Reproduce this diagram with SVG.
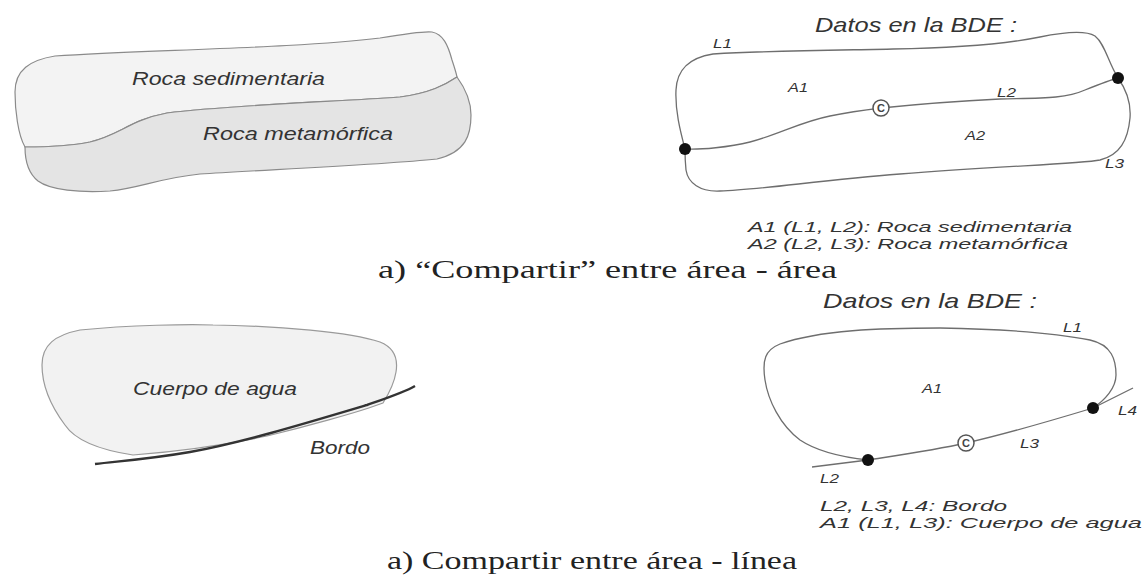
<svg xmlns="http://www.w3.org/2000/svg" width="1145" height="576" viewBox="0 0 1145 576">
<style>
.t{font-family:"Liberation Sans",Arial,sans-serif;font-style:italic;fill:#333}
.lab{font-size:13px}
.big{font-size:19px}
.leg{font-size:15px}
.cap{font-family:"Liberation Serif","Times New Roman",serif;font-size:25px;fill:#222}
.ln{fill:none;stroke:#6e6e6e;stroke-width:1.3}
.dot{fill:#111}
.cc{fill:#fff;stroke:#555;stroke-width:1.5}
.ccl{font-family:"Liberation Sans",Arial,sans-serif;font-size:11px;font-weight:bold;fill:#444;text-anchor:middle}
</style>
<rect width="1145" height="576" fill="#ffffff"/>

<g id="rocks-map">
  <path id="roca-sed" d="M25,147 C18,135 15,110 15,92 C15,70 30,60 55,56 C150,50 300,48 380,38 C410,33 425,31 432,32 C443,34 448,45 452,60 C454,66 456,72 457,77 C445,85 430,93 400,97 C330,102 230,105 167,113 C130,120 120,135 90,142 C70,146 40,147 25,147 Z" fill="#f3f3f3" stroke="#8a8a8a" stroke-width="1.2"/>
  <path id="roca-met" d="M457,77 C465,88 471,100 471,115 C471,135 466,152 437,159 C380,165 260,170 200,174 C160,178 140,188 110,191 C80,193 50,190 38,181 C28,173 25,160 25,147 C40,147 70,146 90,142 C120,135 130,120 167,113 C230,105 330,102 400,97 C430,93 445,85 457,77 Z" fill="#e4e4e4" stroke="#8a8a8a" stroke-width="1.2"/>
  <text class="t big" x="132" y="85" textLength="193" lengthAdjust="spacingAndGlyphs">Roca sedimentaria</text>
  <text class="t big" x="203" y="140" textLength="190" lengthAdjust="spacingAndGlyphs">Roca metamórfica</text>
</g>

<g id="water-map">
  <path id="cuerpo" d="M133,455 C100,450 75,440 65,425 C50,405 42,385 42,365 C42,345 55,335 80,330 C130,325 190,324 213,325 C280,326 350,332 380,342 C395,348 398,360 396,372 C394,385 388,395 383,403 C360,412 300,428 267,436 C220,446 170,452 133,455 Z" fill="#f2f2f2" stroke="#9a9a9a" stroke-width="1.2"/>
  <path id="bordo" d="M95,464 C120,461 150,459 190,452 C240,443 300,425 367,405 C390,397 405,392 415,386" fill="none" stroke="#333" stroke-width="2.4"/>
  <text class="t big" x="133" y="395" textLength="164" lengthAdjust="spacingAndGlyphs">Cuerpo de agua</text>
  <text class="t big" x="310" y="454" textLength="60" lengthAdjust="spacingAndGlyphs">Bordo</text>
</g>

<g id="connectors">
  <path id="top-L1" class="ln" d="M685,149 C680,130 675,110 676,90 C677,70 688,58 713,54 C780,50 860,50 893,49 C960,48 1010,43 1040,37 C1065,32 1085,30 1095,36 C1105,44 1108,62 1118,78"/>
  <path id="top-L2" class="ln" d="M685,149 C700,150 730,147 750,142 C780,134 800,122 830,116 C850,112 865,110 881,108 C910,105 960,101 1000,99 C1040,98 1065,99 1085,90 C1100,84 1110,80 1118,78"/>
  <path id="top-L3" class="ln" d="M1118,78 C1128,92 1131,105 1130,118 C1128,140 1120,155 1100,160 C1080,164 1000,166 900,174 C820,180 760,190 720,191 C700,192 688,183 686,170 C685,160 685,155 685,149"/>
  <path id="bot-L1" class="ln" d="M868,460 C840,457 815,450 800,440 C780,425 768,400 765,380 C762,360 765,350 780,344 C820,330 880,328 940,328 C1000,329 1050,332 1090,340 C1112,345 1116,360 1116,375 C1116,388 1105,400 1093,408"/>
  <path id="bot-L3" class="ln" d="M868,460 C900,455 935,450 966,443 C1010,433 1060,418 1093,408"/>
  <path id="bot-L2" class="ln" d="M812,467 L868,460"/>
  <path id="bot-L4" class="ln" d="M1093,408 L1133,388"/>
</g>

<g id="bde-areas">
  <text class="t" x="815" y="32" font-size="21" textLength="202" lengthAdjust="spacingAndGlyphs">Datos en la BDE :</text>
  <circle class="dot" cx="685" cy="149" r="6"/>
  <circle class="dot" cx="1118" cy="78" r="6"/>
  <g id="centroid-top">
    <circle class="cc" cx="881" cy="108" r="8"/>
    <text class="ccl" x="881" y="112">C</text>
  </g>
  <text class="t lab" x="713" y="48" textLength="19" lengthAdjust="spacingAndGlyphs">L1</text>
  <text class="t lab" x="788" y="92" textLength="20" lengthAdjust="spacingAndGlyphs">A1</text>
  <text class="t lab" x="997" y="97" textLength="19" lengthAdjust="spacingAndGlyphs">L2</text>
  <text class="t lab" x="965" y="140" textLength="20" lengthAdjust="spacingAndGlyphs">A2</text>
  <text class="t lab" x="1105" y="168" textLength="19" lengthAdjust="spacingAndGlyphs">L3</text>
  <text class="t leg" x="748" y="232" textLength="324" lengthAdjust="spacingAndGlyphs">A1 (L1, L2): Roca sedimentaria</text>
  <text class="t leg" x="748" y="249" textLength="320" lengthAdjust="spacingAndGlyphs">A2 (L2, L3): Roca metamórfica</text>
</g>

<g id="bde-line">
  <text class="t" x="823" y="308" font-size="21" textLength="214" lengthAdjust="spacingAndGlyphs">Datos en la BDE :</text>
  <circle class="dot" cx="868" cy="460" r="6"/>
  <circle class="dot" cx="1093" cy="408" r="6"/>
  <g id="centroid-bot">
    <circle class="cc" cx="966" cy="443" r="8"/>
    <text class="ccl" x="966" y="447">C</text>
  </g>
  <text class="t lab" x="1063" y="332" textLength="19" lengthAdjust="spacingAndGlyphs">L1</text>
  <text class="t lab" x="922" y="393" textLength="20" lengthAdjust="spacingAndGlyphs">A1</text>
  <text class="t lab" x="1118" y="415" textLength="19" lengthAdjust="spacingAndGlyphs">L4</text>
  <text class="t lab" x="1020" y="448" textLength="19" lengthAdjust="spacingAndGlyphs">L3</text>
  <text class="t lab" x="820" y="483" textLength="19" lengthAdjust="spacingAndGlyphs">L2</text>
  <text class="t leg" x="820" y="511" textLength="187" lengthAdjust="spacingAndGlyphs">L2, L3, L4: Bordo</text>
  <text class="t leg" x="820" y="528" textLength="322" lengthAdjust="spacingAndGlyphs">A1 (L1, L3): Cuerpo de agua</text>
</g>

<g id="captions">
  <text class="cap" x="378" y="278" textLength="459" lengthAdjust="spacingAndGlyphs">a) “Compartir” entre área - área</text>
  <text class="cap" x="387" y="569" textLength="410" lengthAdjust="spacingAndGlyphs">a) Compartir entre área - línea</text>
</g>
</svg>
